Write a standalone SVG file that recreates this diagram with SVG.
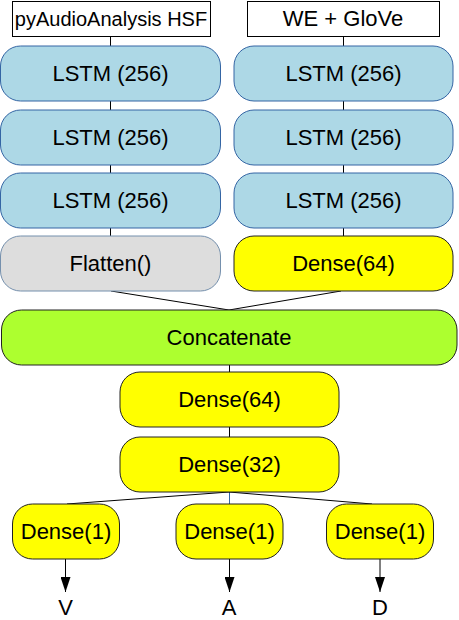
<svg xmlns="http://www.w3.org/2000/svg" width="459" height="620" viewBox="0 0 459 620">
<defs>
<style>
text{font-family:"Liberation Sans",Arial,sans-serif;font-size:22px;fill:#000;text-anchor:middle}
.in{fill:#fff;stroke:#000;stroke-width:1}
.lstm{fill:#add8e6;stroke:#3465a4;stroke-width:1}
.flat{fill:#dddddd;stroke:#7590ad;stroke-width:1}
.dense{fill:#ffff00;stroke:#222;stroke-width:1}
.cat{fill:#adff2f;stroke:#222;stroke-width:1}
.c{stroke:#000;stroke-width:1;fill:none}
.lbl{font-size:22px}
</style>
<marker id="ah" viewBox="0 0 15 10" refX="15" refY="5" markerWidth="15" markerHeight="10" markerUnits="userSpaceOnUse" orient="auto">
<path d="M0,0 L15,5 L0,10 Z" fill="#000"/>
</marker>
</defs>
<g id="connectors">
<line class="c" x1="110.5" y1="37" x2="110.5" y2="46"/>
<line class="c" x1="110.5" y1="101" x2="110.5" y2="110"/>
<line class="c" x1="110.5" y1="165" x2="110.5" y2="173"/>
<line class="c" x1="110.5" y1="228" x2="110.5" y2="236"/>
<line class="c" x1="343.5" y1="37" x2="343.5" y2="46"/>
<line class="c" x1="343.5" y1="101" x2="343.5" y2="110"/>
<line class="c" x1="343.5" y1="165" x2="343.5" y2="173"/>
<line class="c" x1="343.5" y1="228" x2="343.5" y2="236"/>
<line class="c" x1="111" y1="291" x2="229" y2="310"/>
<line class="c" x1="341" y1="291" x2="229" y2="310"/>
<line class="c" x1="229.5" y1="365" x2="229.5" y2="372"/>
<line class="c" x1="229.5" y1="427" x2="229.5" y2="437"/>
<line class="c" x1="229" y1="492" x2="67" y2="504"/>
<line class="c" x1="229.5" y1="492" x2="229.5" y2="504" style="stroke:#3465a4"/>
<line class="c" x1="229" y1="492" x2="372" y2="504"/>
<line class="c" x1="65.5" y1="559" x2="65.5" y2="592" marker-end="url(#ah)"/>
<line class="c" x1="229.5" y1="559" x2="229.5" y2="592" marker-end="url(#ah)"/>
<line class="c" x1="380" y1="559" x2="380" y2="592" marker-end="url(#ah)"/>
</g>
<g id="in-audio"><rect class="in" x="12.5" y="1.5" width="198" height="35"/><text x="111" y="26" style="font-size:20px">pyAudioAnalysis HSF</text></g>
<g id="in-text"><rect class="in" x="247.5" y="1.5" width="192" height="35"/><text x="343" y="26">WE + GloVe</text></g>
<g id="lstm-l1"><rect class="lstm" x="0.5" y="46" width="220" height="55" rx="20"/><text x="110.5" y="81">LSTM (256)</text></g>
<g id="lstm-l2"><rect class="lstm" x="0.5" y="110" width="220" height="55" rx="20"/><text x="110.5" y="145">LSTM (256)</text></g>
<g id="lstm-l3"><rect class="lstm" x="0.5" y="173" width="220" height="55" rx="20"/><text x="110.5" y="208">LSTM (256)</text></g>
<g id="flatten"><rect class="flat" x="0.5" y="236" width="220" height="55" rx="20"/><text x="110.5" y="271">Flatten()</text></g>
<g id="lstm-r1"><rect class="lstm" x="234" y="46" width="219" height="55" rx="20"/><text x="343.5" y="81">LSTM (256)</text></g>
<g id="lstm-r2"><rect class="lstm" x="234" y="110" width="219" height="55" rx="20"/><text x="343.5" y="145">LSTM (256)</text></g>
<g id="lstm-r3"><rect class="lstm" x="234" y="173" width="219" height="55" rx="20"/><text x="343.5" y="208">LSTM (256)</text></g>
<g id="dense-r"><rect class="dense" x="234" y="236" width="219" height="55" rx="20"/><text x="343.5" y="271">Dense(64)</text></g>
<g id="concat"><rect class="cat" x="1.5" y="310" width="455.5" height="55" rx="20"/><text x="229" y="345">Concatenate</text></g>
<g id="dense64"><rect class="dense" x="120" y="372" width="219" height="55" rx="20"/><text x="229.5" y="407">Dense(64)</text></g>
<g id="dense32"><rect class="dense" x="120" y="437" width="219" height="55" rx="20"/><text x="229.5" y="472">Dense(32)</text></g>
<g id="dense1-v"><rect class="dense" x="12.5" y="504" width="107" height="55" rx="20"/><text x="66" y="539">Dense(1)</text></g>
<g id="dense1-a"><rect class="dense" x="176" y="504" width="107" height="55" rx="20"/><text x="229.5" y="539">Dense(1)</text></g>
<g id="dense1-d"><rect class="dense" x="326.5" y="504" width="107" height="55" rx="20"/><text x="380" y="539">Dense(1)</text></g>
<g id="labels">
<text class="lbl" x="65.5" y="615">V</text>
<text class="lbl" x="229" y="615">A</text>
<text class="lbl" x="380" y="615">D</text>
</g>
</svg>
